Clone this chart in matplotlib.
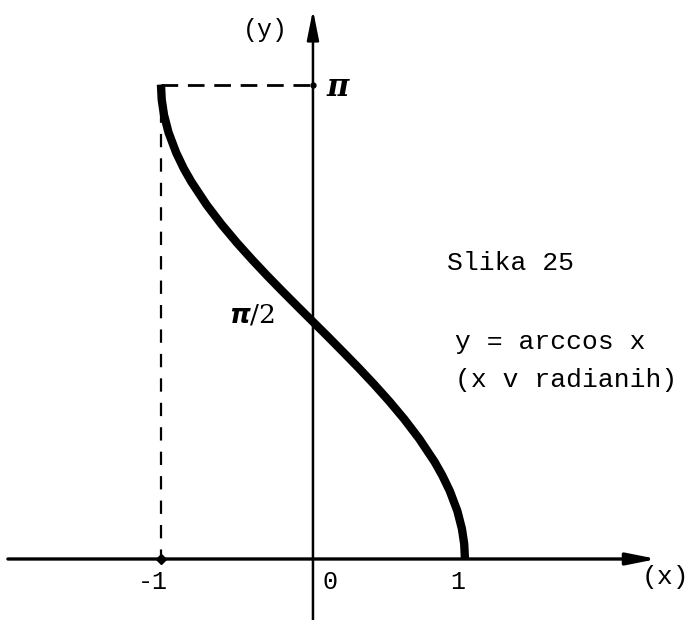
import matplotlib.pyplot as plt

# curve y = arccos x
curve_x = [-1.0, -0.995, -0.98, -0.95, -0.9, -0.85, -0.8, -0.7, -0.6, -0.5,
           -0.4, -0.3, -0.2, -0.1, 0.0, 0.1, 0.2, 0.3, 0.4, 0.5,
           0.6, 0.7, 0.8, 0.85, 0.9, 0.95, 0.98, 0.995, 1.0]
curve_y = [3.142, 3.042, 2.941, 2.824, 2.691, 2.586, 2.498, 2.346, 2.214, 2.094,
           1.982, 1.875, 1.772, 1.671, 1.571, 1.471, 1.369, 1.266, 1.159, 1.047,
           0.927, 0.795, 0.644, 0.555, 0.451, 0.318, 0.200, 0.100, 0.0]

x_ticks = [-1, 0, 1]
x_tick_labels = ['-1', '0', '1']
y_top = 3.1416
guide_x = -1

MONO = 'Liberation Mono'

fig = plt.figure(figsize=(6.89, 6.2), dpi=100)
ax = fig.add_axes([0, 0, 1, 1])
ax.set_xlim(-2.059, 2.474)
ax.set_ylim(-0.404, 3.702)
ax.axis('off')

arrow = dict(arrowstyle='-|>,head_length=0.9,head_width=0.18', lw=2.4,
             color='black', mutation_scale=20, shrinkA=0, shrinkB=0)
# x axis
ax.annotate('', xy=(2.263, 0), xytext=(-2.007, 0), arrowprops=arrow)
# y axis
ax.annotate('', xy=(0, 3.636), xytext=(0, -0.404), arrowprops=dict(arrow, lw=1.8))

# dashed guides
ax.plot([guide_x, 0], [y_top, y_top], color='black', lw=2,
        linestyle=(0, (6, 3.5)))
ax.plot([guide_x, guide_x], [y_top, 0], color='black', lw=1.6,
        linestyle=(0, (6, 5)))

# curve
ax.plot(curve_x, curve_y, color='black', lw=6, solid_capstyle='butt',
        solid_joinstyle='round')

# small tick dots
ax.plot([guide_x], [0], marker='D', ms=5, color='black')
ax.plot([0], [y_top], marker='o', ms=3.5, color='black')

# tick labels
for xv, lab in zip(x_ticks, x_tick_labels):
    off = 0.11 if xv == 0 else -0.05
    ax.text(xv + off, -0.152, lab, family=MONO, fontsize=18,
            ha='center', va='center')

ax.text(2.316, -0.119, '(x)', family=MONO, fontsize=19, ha='center', va='center')
ax.text(-0.316, 3.503, '(y)', family=MONO, fontsize=18, ha='center', va='center')

ax.text(0.164, 3.12, 'π', family='DejaVu Serif', fontsize=22, fontweight='bold',
        style='italic', ha='center', va='center')
ax.text(-0.25, 1.616, r'$\boldsymbol{\pi}$/2', fontsize=19, ha='right', va='center',
        family='DejaVu Serif')

ax.text(0.882, 1.960, 'Slika 25', family=MONO, fontsize=19, ha='left', va='center')
ax.text(0.934, 1.437, 'y = arccos x', family=MONO, fontsize=19, ha='left', va='center')
ax.text(0.934, 1.185, '(x v radianih)', family=MONO, fontsize=19, ha='left', va='center')

fig.savefig('out.png', dpi=100)
